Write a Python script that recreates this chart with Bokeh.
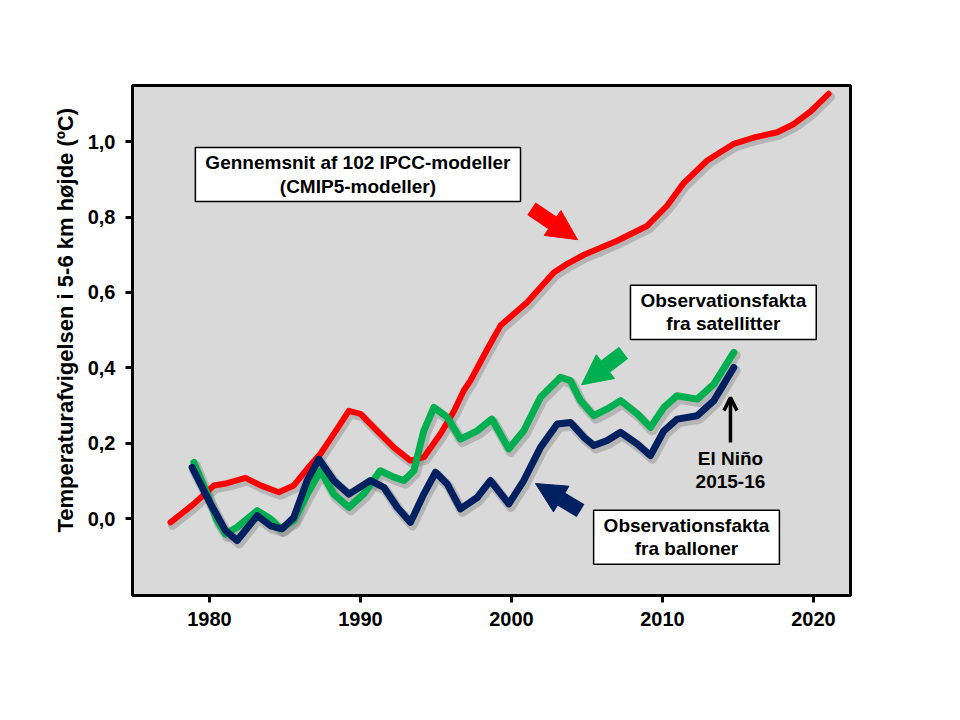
from bokeh.plotting import figure
from bokeh.models import Range1d, FixedTicker, CustomJSTickFormatter, Label, Arrow, NormalHead, OpenHead, Title
from bokeh.embed import file_html
from bokeh.resources import INLINE

# --- data ---
years_models = [1977.42, 1978.96, 1980.29, 1981.17, 1982.38, 1983.38, 1984.59, 1985.58, 1986.47,
                1987.35, 1988.23, 1989.23, 1990.0, 1991.1, 1992.2, 1993.3, 1994.2, 1995.3, 1996.2,
                1996.84, 1997.28, 1998.4, 1999.27, 2001.04, 2002.8, 2003.69, 2004.8, 2007.0,
                2009.0, 2010.3, 2011.4, 2012.96, 2014.7, 2016.05, 2017.6, 2018.7, 2019.8, 2021.0]
temp_models = [-0.010, 0.039, 0.088, 0.094, 0.108, 0.088, 0.070, 0.088, 0.132,
               0.172, 0.225, 0.286, 0.278, 0.233, 0.189, 0.154, 0.163, 0.225, 0.286,
               0.34, 0.366, 0.45, 0.512, 0.574, 0.653, 0.676, 0.70, 0.737,
               0.777, 0.830, 0.89, 0.95, 0.994, 1.011, 1.025, 1.047, 1.08, 1.127]

years_sat = [1978.96, 1979.85, 1980.5, 1981.06, 1981.83, 1983.16, 1984.04, 1984.7, 1985.58,
             1986.47, 1987.35, 1988.23, 1989.23, 1990.2, 1991.3, 1992.2, 1992.87, 1993.53,
             1994.19, 1994.86, 1995.74, 1996.62, 1997.73, 1998.7, 1999.82, 2000.81, 2001.92,
             2003.25, 2003.9, 2004.57, 2005.45, 2006.34, 2007.22, 2008.32, 2009.2, 2010.09,
             2010.97, 2012.3, 2013.4, 2014.72]
temp_sat = [0.149, 0.065, -0.005, -0.041, -0.023, 0.021, -0.001, -0.027, -0.005,
            0.065, 0.127, 0.065, 0.030, 0.065, 0.127, 0.110, 0.101, 0.127,
            0.233, 0.295, 0.269, 0.211, 0.233, 0.264, 0.185, 0.233, 0.322,
            0.375, 0.366, 0.313, 0.273, 0.291, 0.313, 0.278, 0.242, 0.295,
            0.326, 0.317, 0.357, 0.441]

years_bal = [1978.85, 1980.07, 1981.06, 1981.83, 1983.16, 1984.04, 1984.81, 1985.58, 1986.47,
             1987.24, 1988.23, 1989.23, 1990.66, 1991.54, 1992.43, 1993.31, 1994.19, 1994.97,
             1995.74, 1996.62, 1997.73, 1998.6, 1999.82, 2000.81, 2001.92, 2003.03, 2003.9,
             2004.79, 2005.45, 2006.34, 2007.22, 2008.32, 2009.2, 2010.09, 2010.97, 2012.3,
             2013.4, 2014.72]
temp_bal = [0.136, 0.039, -0.032, -0.058, 0.008, -0.019, -0.027, 0.003, 0.101,
            0.158, 0.101, 0.065, 0.101, 0.083, 0.030, -0.010, 0.065, 0.123,
            0.092, 0.026, 0.056, 0.101, 0.039, 0.101, 0.189, 0.251, 0.255,
            0.216, 0.194, 0.207, 0.229, 0.198, 0.167, 0.233, 0.264, 0.273,
            0.313, 0.401]

x_ticks = [1980, 1990, 2000, 2010, 2020]
y_ticks = [0.0, 0.2, 0.4, 0.6, 0.8, 1.0]

FONT = "Liberation Sans"

p = figure(width=944, height=700, output_backend="svg", toolbar_location=None,
           x_range=Range1d(1974.9, 2022.45), y_range=Range1d(-0.204, 1.149),
           min_border_left=132, min_border_right=94, min_border_top=85, min_border_bottom=105)
p.background_fill_color = "#d9d9d9"
p.border_fill_color = "white"
p.outline_line_color = "black"
p.outline_line_width = 3
p.xgrid.visible = False
p.ygrid.visible = False

for ax in (p.xaxis[0], p.yaxis[0]):
    ax.axis_line_width = 3
    ax.axis_line_color = "black"
    ax.major_tick_line_width = 3
    ax.major_tick_line_color = "black"
    ax.major_tick_in = 0
    ax.major_tick_out = 7
    ax.minor_tick_line_color = None
    ax.major_label_text_font = FONT
    ax.major_label_text_font_style = "bold"
    ax.major_label_text_font_size = "20px"
    ax.major_label_text_color = "black"

p.xaxis.ticker = FixedTicker(ticks=x_ticks)
p.xaxis.major_label_standoff = 9
p.yaxis.ticker = FixedTicker(ticks=y_ticks)
p.yaxis.formatter = CustomJSTickFormatter(code="return tick.toFixed(1).replace('.', ',');")
p.yaxis.major_label_standoff = 10

# y-axis title as a side title, shifted upward as in the reference
p.add_layout(Title(text="Temperaturafvigelsen i 5-6 km højde (ºC)", align="left", offset=63,
                   text_font=FONT, text_font_style="bold", text_font_size="22px",
                   text_color="black", standoff=14), "left")

# shadows then lines
dx, dy = 0.13, -0.008
for xs, ys, w in ((years_models, temp_models, 6), (years_sat, temp_sat, 7), (years_bal, temp_bal, 7)):
    p.line([x + dx for x in xs], [y + dy for y in ys], line_color="#808080", line_alpha=0.4,
           line_width=w + 3, line_join="round", line_cap="round")

p.line(years_models, temp_models, line_color="#ff0000", line_width=6, line_join="round", line_cap="round")
p.line(years_sat, temp_sat, line_color="#00b050", line_width=7, line_join="round", line_cap="round")
p.line(years_bal, temp_bal, line_color="#002060", line_width=7, line_join="round", line_cap="round")

# block arrows
for (xs, ys, xe, ye, c) in ((2001.32, 0.822, 2004.37, 0.740, "#ff0000"),
                            (2007.42, 0.440, 2004.64, 0.355, "#00b050"),
                            (2004.57, 0.021, 2001.59, 0.093, "#002060")):
    p.add_layout(Arrow(x_start=xs, y_start=ys, x_end=xe, y_end=ye, line_color=c, line_width=15,
                       line_cap="butt",
                       end=NormalHead(size=30, fill_color=c, line_color=c, line_width=1)))

p.add_layout(Arrow(x_start=2014.5, y_start=0.2016, x_end=2014.5, y_end=0.321, line_color="black",
                   line_width=3.5, end=OpenHead(size=13, line_color="black", line_width=3.5)))

def box(x, y, text):
    p.add_layout(Label(x=x, y=y, text=text, text_align="center", text_baseline="middle",
                       text_font=FONT, text_font_style="bold", text_font_size="19px",
                       text_color="black", text_line_height=1.1, background_fill_color="white",
                       border_line_color="black", border_line_width=1.5,
                       padding=dict(left=10, right=10, top=5, bottom=5)))

box(1989.83, 0.913, "Gennemsnit af 102 IPCC-modeller\n(CMIP5-modeller)")
box(2014.03, 0.547, "Observationsfakta\nfra satellitter")
box(2011.59, -0.0496, "Observationsfakta\nfra balloner")

p.add_layout(Label(x=2014.5, y=0.13, text="El Niño\n2015-16", text_align="center",
                   text_baseline="middle", text_font=FONT, text_font_style="bold",
                   text_font_size="19px", text_color="black", text_line_height=1.1))

open("out.html", "w").write(file_html(p, INLINE))
